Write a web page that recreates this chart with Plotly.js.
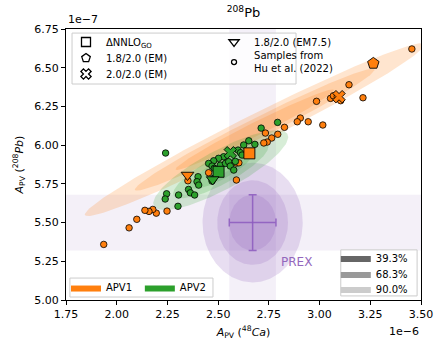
<!DOCTYPE html>
<html><head><meta charset="utf-8">
<script src="https://cdn.plot.ly/plotly-3.0.1.min.js"></script>
<style>html,body{margin:0;padding:0;background:#fff}#chart{width:436px;height:340px}</style>
</head><body><div id="chart"></div>
<script>
// Units: x in 1e-6 (A_PV 48Ca), y in 1e-7 (A_PV 208Pb)
const apv1SampleX = [3.455,3.145,2.985,3.054,3.068,3.087,3.104,3.214,2.905,2.890,2.944,3.016,2.827,2.733,2.794,2.764,2.742,2.725,2.590,2.602,2.453,2.590,2.351,2.248,2.195,2.178,2.159,2.139,2.099,2.061,1.936];
const apv1SampleY = [6.621,6.390,6.283,6.302,6.319,6.313,6.287,6.306,6.175,6.151,6.151,6.130,6.115,6.078,6.070,6.046,6.020,6.014,5.884,5.886,5.822,5.775,5.770,5.574,5.561,5.585,5.572,5.579,5.521,5.466,5.359];
const apv2SampleX = [2.793,2.712,2.241,2.651,2.681,2.626,2.598,2.610,2.618,2.527,2.502,2.478,2.453,2.470,2.511,2.536,2.552,2.560,2.577,2.495,2.478,2.470,2.401,2.396,2.404,2.354,2.363,2.384,2.305,2.246,2.239,2.302,2.585,2.481];
const apv2SampleY = [6.147,6.110,5.949,6.028,6.005,6.001,5.968,5.951,5.936,5.925,5.915,5.899,5.882,5.865,5.871,5.882,5.893,5.865,5.839,5.818,5.786,5.768,5.796,5.764,5.742,5.714,5.692,5.678,5.678,5.686,5.652,5.605,5.895,5.850];

const interactionLabels = ['ΔNNLO<sub>GO</sub>','1.8/2.0 (EM)','2.0/2.0 (EM)','1.8/2.0 (EM7.5)'];
const interactionSymbols = ['square','pentagon','x','triangle-down'];
const apv1InterX = [2.654,3.265,3.096,2.349];
const apv1InterY = [5.947,6.528,6.313,5.807];
const apv2InterX = [2.502,null,2.560,2.473];
const apv2InterY = [5.828,null,5.951,5.778];
const samplesLabel = 'Samples from<br>Hu et al. (2022)';

// Gaussian regions: centre, sigma x, sigma y, correlation
const regionNames = ['PREX','APV1','APV2'];
const regionColors = ['148,103,189','255,127,14','44,160,44'];
const regionCX = [2.67, 2.68, 2.513];
const regionCY = [5.50, 6.10, 5.839];
const regionSX = [0.115, 0.39, 0.155];
const regionSY = [0.18, 0.26, 0.120];
const regionRho = [0.0, 0.982, 0.83];
const regionAlpha = [0.22, 0.2, 0.19];

const confidenceLabels = ['39.3%','68.3%','90.0%'];
const confidenceK = [1.0, 1.515, 2.146];
const confidenceGrey = ['#666666','#999999','#cccccc'];

const traces = [];
function ellipsePts(i, k){
  const xs=[], ys=[];
  const s = Math.sqrt(1-regionRho[i]*regionRho[i]);
  for(let j=0;j<=160;j++){
    const t = 2*Math.PI*j/160;
    xs.push(regionCX[i] + k*regionSX[i]*Math.cos(t));
    ys.push(regionCY[i] + k*regionSY[i]*(regionRho[i]*Math.cos(t) + s*Math.sin(t)));
  }
  return {xs, ys};
}
for(let i=0;i<regionNames.length;i++){
  for(let c=confidenceK.length-1;c>=0;c--){
    const p = ellipsePts(i, confidenceK[c]);
    traces.push({x:p.xs, y:p.ys, mode:'lines', fill:'toself', line:{width:0},
      fillcolor:'rgba('+regionColors[i]+','+regionAlpha[i]+')', showlegend:false, hoverinfo:'skip'});
  }
}
// PREX error bars
traces.push({x:[regionCX[0]], y:[regionCY[0]], mode:'markers', marker:{size:1, color:'rgba(0,0,0,0)'},
  error_x:{type:'constant', value:regionSX[0], color:'rgba(140,90,190,0.85)', thickness:1.5, width:4},
  error_y:{type:'constant', value:regionSY[0], color:'rgba(140,90,190,0.85)', thickness:1.5, width:4},
  showlegend:false, hoverinfo:'skip'});

// samples
traces.push({x:apv1SampleX, y:apv1SampleY, mode:'markers', showlegend:false,
  marker:{size:6.5, color:'#ff7f0e', opacity:1, line:{color:'#000', width:0.8}}});
traces.push({x:apv2SampleX, y:apv2SampleY, mode:'markers', showlegend:false,
  marker:{size:6.5, color:'#2ca02c', opacity:1, line:{color:'#000', width:0.8}}});
// interactions
const bigSize = [11,12,11,11];
traces.push({x:apv2InterX, y:apv2InterY, mode:'markers', showlegend:false,
  marker:{size:bigSize, symbol:interactionSymbols, color:'#2ca02c', opacity:1, line:{color:'#000', width:0.9}}});
traces.push({x:apv1InterX, y:apv1InterY, mode:'markers', showlegend:false,
  marker:{size:bigSize, symbol:interactionSymbols, color:'#ff7f0e', opacity:1, line:{color:'#000', width:0.9}}});

// legend entries (no data), each in its own legend for exact placement
function markerEntry(name, symbol, size, leg){
  traces.push({x:[null], y:[null], mode:'markers', name:name, legend:leg,
    marker:{size:size, symbol:symbol, color:'#fff', line:{color:'#000', width:1.3}}});
}
markerEntry(interactionLabels[0], interactionSymbols[0], 9, 'legend');
markerEntry(interactionLabels[1], interactionSymbols[1], 9, 'legend5');
markerEntry(interactionLabels[2], interactionSymbols[2], 9, 'legend6');
markerEntry(interactionLabels[3], interactionSymbols[3], 9, 'legend2');
markerEntry(samplesLabel, 'circle', 5, 'legend7');
function fillEntry(name, color, leg){
  traces.push({x:[null], y:[null], mode:'lines', fill:'toself', fillcolor:color,
    line:{width:0, color:color}, name:name, legend:leg});
}
fillEntry('APV1', '#ff7f0e', 'legend3');
fillEntry('APV2', '#2ca02c', 'legend8');
fillEntry(confidenceLabels[0], confidenceGrey[0], 'legend4');
fillEntry(confidenceLabels[1], confidenceGrey[1], 'legend9');
fillEntry(confidenceLabels[2], confidenceGrey[2], 'legend10');

const bandColor = 'rgba(148,103,189,0.1)';
const font = {family:'DejaVu Sans', size:11, color:'#000'};
const legFont = {family:'DejaVu Sans', size:10, color:'#000'};
function leg(x, y){
  return {x:x, y:y, xanchor:'left', yanchor:'middle', bgcolor:'rgba(0,0,0,0)', borderwidth:0, font:legFont, itemwidth:30};
}
const boxStyle = {type:'rect', layer:'above', xref:'paper', yref:'paper', fillcolor:'rgba(255,255,255,0.8)', line:{color:'#cccccc', width:1}};
const layout = {
  width:436, height:340, margin:{l:66, r:15, t:29, b:40},
  paper_bgcolor:'#fff', plot_bgcolor:'#fff', font:font,
  title:{text:'<sup>208</sup>Pb', font:{family:'DejaVu Sans', size:13}, x:0.5585, xanchor:'center', y:0.962, yanchor:'middle'},
  xaxis:{range:[1.75,3.5], tick0:1.75, dtick:0.25, tickformat:'.2f', ticks:'outside', ticklen:4, tickcolor:'#000',
    showline:true, mirror:true, linecolor:'#000', linewidth:1, showgrid:false, zeroline:false,
    title:{text:'<i>A</i><sub>PV</sub> (<sup>48</sup><i>Ca</i>)', font:{family:'DejaVu Sans', size:11}, standoff:15}},
  yaxis:{range:[5.0,6.75], tick0:5.0, dtick:0.25, tickformat:'.2f', ticks:'outside', ticklen:4, tickcolor:'#000',
    showline:true, mirror:true, linecolor:'#000', linewidth:1, showgrid:false, zeroline:false,
    title:{text:'<i>A</i><sub>PV</sub> (<sup>208</sup><i>Pb</i>)', font:{family:'DejaVu Sans', size:11}, standoff:8}},
  shapes:[
    {type:'rect', layer:'below', xref:'x', yref:'paper', x0:regionCX[0]-regionSX[0], x1:regionCX[0]+regionSX[0], y0:0, y1:1, fillcolor:bandColor, line:{width:0}},
    {type:'rect', layer:'below', xref:'paper', yref:'y', x0:0, x1:1, y0:regionCY[0]-regionSY[0], y1:regionCY[0]+regionSY[0], fillcolor:bandColor, line:{width:0}},
    Object.assign({x0:0.017, x1:0.648, y0:0.797, y1:0.985}, boxStyle),
    Object.assign({x0:0.011, x1:0.414, y0:0.011, y1:0.081}, boxStyle),
    Object.assign({x0:0.774, x1:0.989, y0:0.015, y1:0.185}, boxStyle)
  ],
  annotations:[
    {text:'1e\u22127', xref:'paper', yref:'paper', x:0, y:1, xanchor:'left', yanchor:'bottom', showarrow:false, font:font, yshift:1},
    {text:'1e\u22126', xref:'paper', yref:'paper', x:1, y:0, xanchor:'right', yanchor:'top', showarrow:false, font:font, yshift:-23},
    {text:'PREX', xref:'x', yref:'y', x:2.886, y:5.245, showarrow:false, font:{family:'DejaVu Sans', size:12, color:'#9467bd'}}
  ],
  legend: leg(0.0, 0.952),
  legend5: leg(0.0, 0.893),
  legend6: leg(0.0, 0.834),
  legend2: leg(0.417, 0.952),
  legend7: leg(0.417, 0.878),
  legend3: leg(0.0, 0.046),
  legend8: leg(0.208, 0.046),
  legend4: leg(0.76, 0.155),
  legend9: leg(0.76, 0.096),
  legend10: leg(0.76, 0.041),
  showlegend:true
};
Plotly.newPlot('chart', traces, layout, {displayModeBar:false, staticPlot:true});
</script></body></html>
